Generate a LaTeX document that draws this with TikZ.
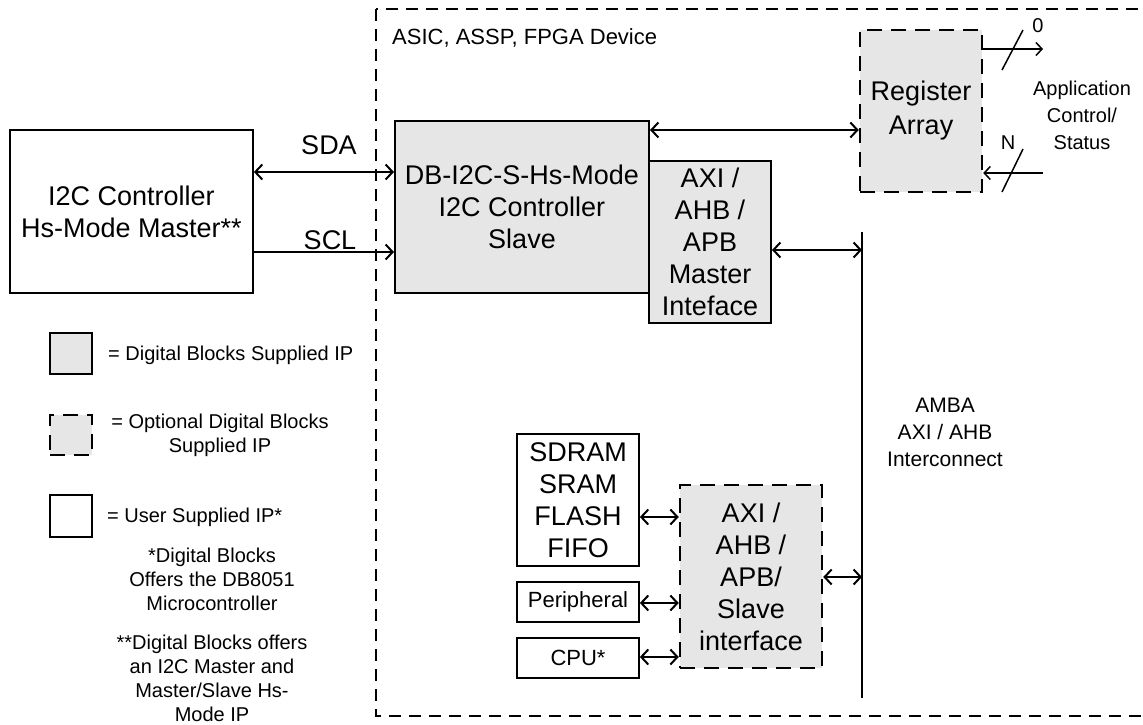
\documentclass[tikz,border=0pt]{standalone}
\usepackage{fontspec}
\setmainfont{Liberation Sans}
\usetikzlibrary{arrows.meta}
\definecolor{boxgray}{RGB}{230,230,230}
\begin{document}
\begin{tikzpicture}[x=1pt,y=-1pt,
  big/.style={font=\fontsize{27}{32}\selectfont},
  mid/.style={font=\fontsize{22}{26}\selectfont},
  small/.style={font=\fontsize{20}{24}\selectfont},
  blk/.style={draw, line width=2pt, fill=boxgray, inner sep=0pt, align=center, big},
  usr/.style={draw, line width=1.8pt, fill=white, inner sep=0pt, align=center, big},
  opt/.style={draw, line width=2.5pt, dash pattern=on 15pt off 9pt, fill=boxgray, inner sep=0pt, align=center, big},
  tip/.tip={Straight Barb[length=7pt,width=15pt]},
  both/.style={line width=2pt, tip-tip},
  one/.style={line width=2pt, -tip},
  lbl/.style={inner sep=0pt, align=center}
]
\useasboundingbox (0,0) rectangle (1143,725);
\clip (0,0) rectangle (1143,725);

% device boundary
\draw[line width=1.5pt, dash pattern=on 12pt off 8pt] (376,9) rectangle (1170,716);
\node[lbl, mid, anchor=west] (devlbl) at (392,38) {ASIC, ASSP, FPGA Device};

% blocks
\node[usr, minimum width=243pt, minimum height=163pt] (master) at (131.5,211.5) {I2C Controller\\Hs-Mode Master**};
\node[blk, minimum width=254pt, minimum height=172pt] (slave) at (522,207) {DB-I2C-S-Hs-Mode\\I2C Controller\\Slave};
\node[blk, minimum width=122pt, minimum height=162pt] (mif) at (710,242) {AXI /\\AHB /\\APB\\Master\\Inteface};
\node[opt, minimum width=122pt, minimum height=162pt, font=\fontsize{27}{34}\selectfont] (reg) at (921,111) {Register\\Array};
\node[usr, minimum width=122pt, minimum height=132pt] (sdram) at (578,500) {SDRAM\\SRAM\\FLASH\\FIFO};
\node[usr, mid, minimum width=122pt, minimum height=40pt] (periph) at (578,602) {Peripheral};
\node[usr, mid, minimum width=122pt, minimum height=40pt] (cpu) at (578,658) {CPU*};
\node[opt, minimum width=142pt, minimum height=183pt] (sif) at (751,576.5) {AXI /\\AHB /\\APB/\\Slave\\interface};

% bus
\coordinate (bustop) at (862,232);
\coordinate (busbot) at (862,698);
\draw[line width=2.5pt] (bustop) -- (busbot);
\node[lbl, font=\fontsize{21}{27}\selectfont] (amba) at (945,432) {AMBA\\AXI / AHB\\Interconnect};

% helper coordinates
\coordinate (ySDA) at (0,172);
\coordinate (ySCL) at (0,252);
\coordinate (yREG) at (0,130);
\coordinate (yMIF) at (0,250);
\coordinate (ySD) at (0,517);
\coordinate (yPER) at (0,603);
\coordinate (yCPU) at (0,657);
\coordinate (ySIF) at (0,577);
\coordinate (out0) at (1043,49);
\coordinate (inN) at (1043,173);

% connectors
\draw[both] (master.east |- ySDA) -- (slave.west |- ySDA);
\draw[one] (master.east |- ySCL) -- (slave.west |- ySCL);
\node[lbl, big] (sda) at (329,145) {SDA};
\node[lbl, big] (scl) at (330,240) {SCL};
\draw[both] (slave.east |- yREG) -- (reg.west |- yREG);
\draw[both] (mif.east |- yMIF) -- (bustop |- yMIF);
\draw[both] (sdram.east |- ySD) -- (sif.west |- ySD);
\draw[both] (periph.east |- yPER) -- (sif.west |- yPER);
\draw[both] (cpu.east |- yCPU) -- (sif.west |- yCPU);
\draw[both] (sif.east |- ySIF) -- (bustop |- ySIF);

% application control/status
\draw[line width=1.5pt, -{Straight Barb[length=6pt,width=13pt]}] (reg.east |- out0) -- (out0);
\draw[line width=1.5pt, -{Straight Barb[length=6pt,width=13pt]}] (inN) -- (reg.east |- inN);
\coordinate (s1a) at (1002,70);
\coordinate (s1b) at (1023,30);
\coordinate (s2a) at (1002,192);
\coordinate (s2b) at (1023,149);
\draw[line width=1.5pt] (s1a) -- (s1b);
\draw[line width=1.5pt] (s2a) -- (s2b);
\node[lbl, small] (zero) at (1038,26) {0};
\node[lbl, small] (enn) at (1008,143) {N};
\node[lbl, font=\fontsize{20}{27}\selectfont] (app) at (1082,115) {Application\\Control/\\Status};

% legend
\node[blk, minimum width=42pt, minimum height=41pt] (lg1) at (71,353.5) {};
\node[opt, minimum width=42pt, minimum height=40pt] (lg2) at (71,435) {};
\node[usr, minimum width=42pt, minimum height=42pt] (lg3) at (71,516) {};
\node[lbl, small, anchor=west] (lt1) at (108,355) {= Digital Blocks Supplied IP};
\node[lbl, small] (lt2) at (220,435) {= Optional Digital Blocks\\Supplied IP};
\node[lbl, small, anchor=west] (lt3) at (107,517) {= User Supplied IP*};
\node[lbl, small] (fn1) at (212,579) {*Digital Blocks\\Offers the DB8051\\Microcontroller};
\node[lbl, small] (fn2) at (212,678) {**Digital Blocks offers\\an I2C Master and\\Master/Slave Hs-\\Mode IP};
\end{tikzpicture}
\end{document}
